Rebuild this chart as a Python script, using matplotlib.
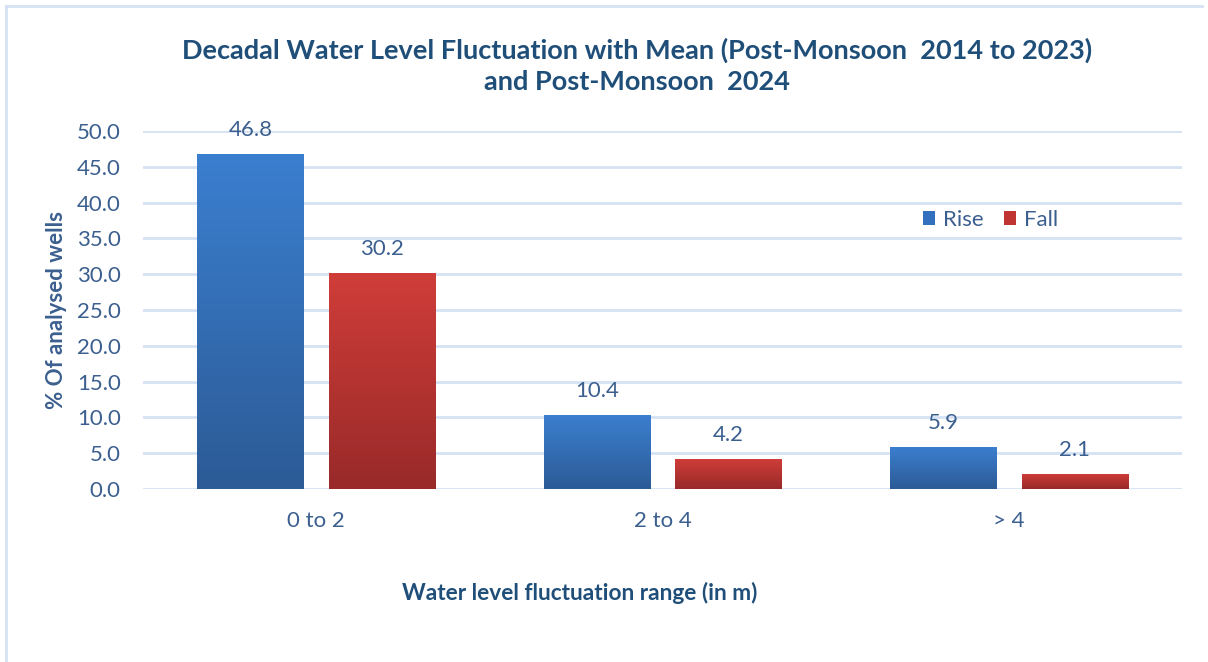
import matplotlib
matplotlib.use("Agg")
import matplotlib.pyplot as plt
import numpy as np
from matplotlib.colors import LinearSegmentedColormap
from matplotlib.lines import Line2D
from matplotlib.patches import Patch

# data
categories = ["0 to 2", "2 to 4", "> 4"]
rise = [46.8, 10.4, 5.9]
fall = [30.2, 4.2, 2.1]

TXT = "#3b5f8f"
TITLE = "#1f4e79"
GRID = "#d5e2f3"

plt.rcParams["font.family"] = ["Lato", "DejaVu Sans"]

fig = plt.figure(figsize=(12.08, 6.62), dpi=100)
ax = fig.add_axes([0.1184, 0.2613, 0.8601, 0.5408])

x = np.arange(len(categories))
w = 0.307
off = 0.19

blue_cm = LinearSegmentedColormap.from_list("b", ["#2c5b96", "#3b7fd0"])
red_cm = LinearSegmentedColormap.from_list("r", ["#982a29", "#d03d39"])

bars_r = ax.bar(x - off, rise, w, color="#3370bd", zorder=2)
bars_f = ax.bar(x + off, fall, w, color="#c03532", zorder=2)

# vertical gradient fill clipped to each bar
grad = np.linspace(0, 1, 256).reshape(-1, 1)
for bars, cm in ((bars_r, blue_cm), (bars_f, red_cm)):
    for b in bars:
        x0, y0 = b.get_x(), b.get_y()
        im = ax.imshow(grad, cmap=cm, origin="lower", aspect="auto",
                       extent=(x0, x0 + b.get_width(), y0, y0 + b.get_height()),
                       zorder=3)
        im.set_clip_path(b)

for bars, vals in ((bars_r, rise), (bars_f, fall)):
    for b, v in zip(bars, vals):
        ax.annotate(f"{v:.1f}", (b.get_x() + b.get_width() / 2, v),
                    xytext=(0, 10), textcoords="offset points",
                    ha="center", va="bottom", fontsize=16, color=TXT)

ax.set_xlim(-0.5, 2.5)
ax.set_ylim(0, 50)
ax.set_yticks(np.arange(0, 50.1, 5))
ax.set_yticklabels([f"{t:.1f}" for t in np.arange(0, 50.1, 5)])
ax.set_xticks(x)
ax.set_xticklabels(categories)
ax.tick_params(axis="both", length=0, labelsize=16, labelcolor=TXT)
ax.tick_params(axis="y", pad=16)
ax.tick_params(axis="x", pad=16)
ax.grid(axis="y", color=GRID, lw=2, zorder=0)
ax.set_axisbelow(True)
for s in ax.spines.values():
    s.set_visible(False)

ax.set_ylabel("% Of analysed wells", fontsize=16, fontweight="bold",
              color=TXT, labelpad=7)
fig.text(0.48, 0.105, "Water level fluctuation range (in m)", ha="center",
         va="center", fontsize=16.3, fontweight="bold", color=TITLE)

fig.text(0.527, 0.901,
         "Decadal Water Level Fluctuation with Mean (Post-Monsoon  2014 to 2023)\nand Post-Monsoon  2024",
         ha="center", va="center", fontsize=19.5, fontweight="bold",
         color=TITLE, linespacing=1.35)

handles = [Patch(facecolor="#3370bd"), Patch(facecolor="#c03532")]
fig.legend(handles, ["Rise", "Fall"], loc="center", bbox_to_anchor=(0.82, 0.668),
           ncol=2, frameon=False, fontsize=16, handlelength=0.55,
           handleheight=0.55, handletextpad=0.35, columnspacing=0.9,
           labelcolor=TXT)

# chart area border (top and left only visible)
fig.add_artist(Line2D([0.005, 0.995], [0.991, 0.991], transform=fig.transFigure,
                      color=GRID, lw=2))
fig.add_artist(Line2D([0.005, 0.005], [0.0, 0.991], transform=fig.transFigure,
                      color=GRID, lw=2))

fig.savefig("out.png", dpi=100, facecolor="white")
